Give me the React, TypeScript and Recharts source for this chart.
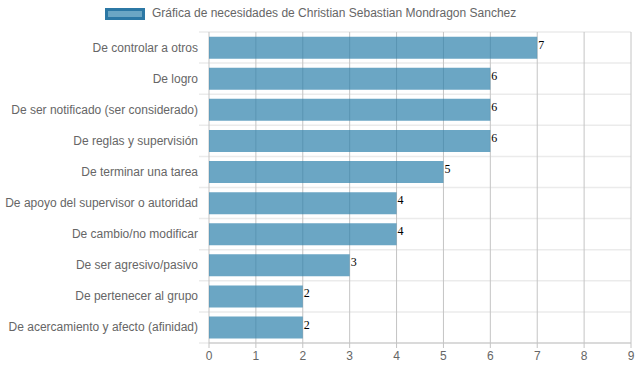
import React from "react";
import { BarChart, Bar, XAxis, YAxis, CartesianGrid, Legend, LabelList } from "recharts";

const categories = [
  "De controlar a otros",
  "De logro",
  "De ser notificado (ser considerado)",
  "De reglas y supervisión",
  "De terminar una tarea",
  "De apoyo del supervisor o autoridad",
  "De cambio/no modificar",
  "De ser agresivo/pasivo",
  "De pertenecer al grupo",
  "De acercamiento y afecto (afinidad)",
];
const values = [7, 6, 6, 6, 5, 4, 4, 3, 2, 2];
const xTicks = [0, 1, 2, 3, 4, 5, 6, 7, 8, 9];
const seriesName = "Gráfica de necesidades de Christian Sebastian Mondragon Sanchez";

const data = categories.map((name, i) => ({ name, value: values[i] }));

const FONT = "'Liberation Sans', Arial, Helvetica, sans-serif";
const BAR_FILL = "rgba(44,128,171,0.7)";
const BAR_BORDER = "rgb(44,120,165)";
const GRID = "#c4c4c4";

const LegendContent = () => (
  <div style={{ position: "relative", width: 637, height: 24 }}>
    <div
      style={{
        position: "absolute",
        left: 105,
        top: 8,
        width: 34,
        height: 6,
        border: `3px solid ${BAR_BORDER}`,
        background: BAR_FILL,
      }}
    />
    <div
      style={{
        position: "absolute",
        left: 152,
        top: 6,
        fontFamily: FONT,
        fontSize: 12,
        color: "#666",
        lineHeight: "14px",
        whiteSpace: "nowrap",
      }}
    >
      {seriesName}
    </div>
  </div>
);

const ValueLabel = (props: any) => {
  const { x, y, width, height, value } = props;
  return (
    <text
      x={x + width + 1}
      y={y + height / 2 + 1}
      fontFamily="'Liberation Serif', 'Times New Roman', serif"
      fontSize={12}
      fill="#000"
    >
      {value}
    </text>
  );
};

const CategoryTick = (props: any) => {
  const { x, y, payload } = props;
  return (
    <text
      x={x}
      y={y}
      textAnchor="end"
      dominantBaseline="central"
      fontFamily={FONT}
      fontSize={12}
      fill="#666"
    >
      {payload.value}
    </text>
  );
};

const HLine = (props: any) => {
  const { x1, x2, y1, y2 } = props;
  return <line x1={x1 - 10} x2={x2} y1={y1} y2={y2} stroke="#ebebeb" strokeWidth={1.5} />;
};

export default function App() {
  return (
    <div style={{ position: "absolute", left: 0, top: 0, width: 637, height: 371 }}>
      <BarChart
        width={637}
        height={371}
        data={data}
        layout="vertical"
        margin={{ top: 8, right: 6, bottom: 0, left: 0 }}
        barCategoryGap="15%"
      >
        <Legend
          verticalAlign="top"
          height={24}
          wrapperStyle={{ left: 0, top: 0, width: 637 }}
          content={() => <LegendContent />}
        />
        <CartesianGrid
          stroke={GRID}
          horizontal={HLine}
          horizontalCoordinatesGenerator={({ offset }: any) =>
            categories
              .map((_, i) => offset.top + (i * offset.height) / categories.length)
              .concat([offset.top + offset.height])
          }
        />
        <XAxis
          type="number"
          domain={[0, 9]}
          ticks={xTicks}
          interval={0}
          height={28}
          tickSize={5}
          tickMargin={3}
          stroke={GRID}
          axisLine={{ stroke: GRID }}
          tickLine={{ stroke: GRID }}
          tick={{ fill: "#666", fontSize: 12, fontFamily: FONT }}
        />
        <YAxis
          type="category"
          dataKey="name"
          width={209}
          tickSize={0}
          tickMargin={11}
          tickLine={false}
          axisLine={false}
          interval={0}
          tick={<CategoryTick />}
        />
        <Bar dataKey="value" name={seriesName} fill={BAR_FILL} isAnimationActive={false}>
          <LabelList dataKey="value" content={ValueLabel} />
        </Bar>
      </BarChart>
    </div>
  );
}
